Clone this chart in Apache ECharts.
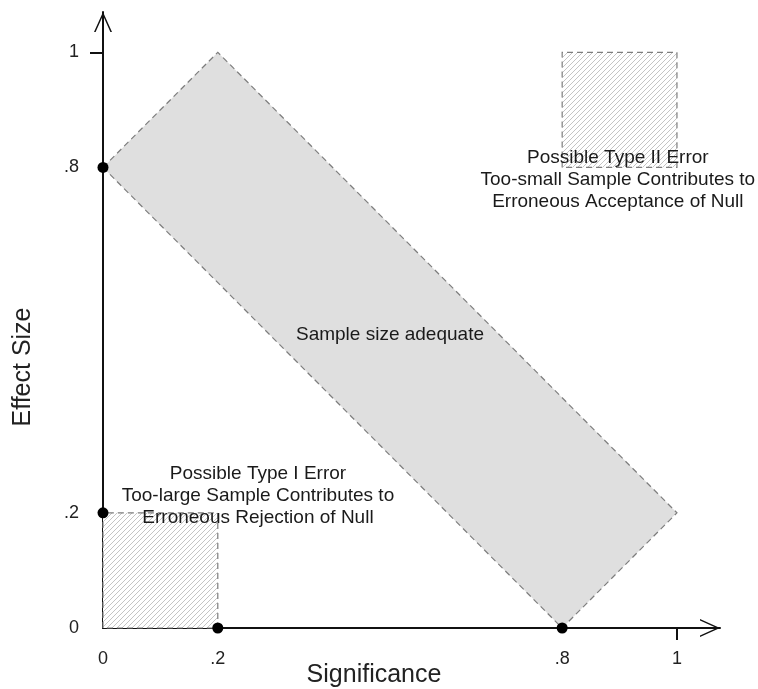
<!DOCTYPE html>
<html>
<head>
<meta charset="utf-8">
<script src="https://cdn.jsdelivr.net/npm/echarts@6/dist/echarts.min.js"></script>
<style>
  html, body { margin: 0; padding: 0; background: #fff; }
  #chart { width: 758px; height: 689px; }
</style>
</head>
<body>
<div id="chart"></div>
<script>
// regions of the diagram (significance, effect size)
const bandPolygon = [[0, 0.8], [0.2, 1], [1, 0.2], [0.8, 0]];
const typeIBox = [[0, 0], [0.2, 0.2]];
const typeIIBox = [[0.8, 0.8], [1, 1]];
const keyPoints = [[0, 0.8], [0, 0.2], [0.2, 0], [0.8, 0]];

const xTickValues = [0, 0.2, 0.8, 1];
const xTickLabels = ['0', '.2', '.8', '1'];
const yTickValues = [0, 0.2, 0.8, 1];
const yTickLabels = ['0', '.2', '.8', '1'];

const annotationTexts = [
  'Sample size adequate',
  'Possible Type I Error\nToo-large Sample Contributes to\nErroneous Rejection of Null',
  'Possible Type II Error\nToo-small Sample Contributes to\nErroneous Acceptance of Null'
];
const annotationAnchors = [[0.5, 0.51], [0.27, 0.229], [0.897, 0.778]];

const FONT = '"Liberation Sans", Arial, sans-serif';

// hatch pattern for the error boxes
const hatch = document.createElement('canvas');
hatch.width = 5;
hatch.height = 5;
const hctx = hatch.getContext('2d');
hctx.fillStyle = '#ffffff';
hctx.fillRect(0, 0, 5, 5);
hctx.strokeStyle = '#c4c4c4';
hctx.lineWidth = 1;
hctx.beginPath();
hctx.moveTo(-1, 6); hctx.lineTo(6, -1);
hctx.moveTo(-1, 1); hctx.lineTo(1, -1);
hctx.moveTo(4, 6); hctx.lineTo(6, 4);
hctx.stroke();

const boxCorners = (b) => [[b[0][0], b[0][1]], [b[0][0], b[1][1]], [b[1][0], b[1][1]], [b[1][0], b[0][1]]];

const regionSeries = (points, fill, z) => ({
  type: 'custom',
  silent: true,
  z: z,
  data: [points[0]],
  renderItem: (params, api) => ({
    type: 'polygon',
    shape: { points: points.map(p => api.coord(p)) },
    style: { fill: fill, stroke: '#7d7d7d', lineWidth: 1.2, lineDash: [6, 4] }
  })
});

const chevron = 'path://M9,0 L18,20 L16.4,20 L9,3.4 L1.6,20 L0,20 Z';

const myChart = echarts.init(document.getElementById('chart'));
const option = {
  animation: false,
  backgroundColor: '#fff',
  grid: { left: 103, right: 38, top: 12, bottom: 61, outerBoundsMode: 'none', containLabel: false },
  xAxis: {
    type: 'value',
    min: 0,
    max: 1.075,
    name: 'Significance',
    nameLocation: 'middle',
    nameGap: 35,
    nameMoveOverlap: false,
    nameTextStyle: { fontFamily: FONT, fontSize: 25, color: '#222', padding: [0, 75, 0, 0] },
    axisLine: {
      show: true,
      onZero: false,
      lineStyle: { color: '#111', width: 2 },
      symbol: ['none', chevron],
      symbolSize: [18, 20],
      symbolOffset: [0, -10]
    },
    axisTick: { show: true, customValues: [1], length: 12, lineStyle: { color: '#111', width: 2 } },
    axisLabel: {
      customValues: xTickValues,
      formatter: (v) => xTickLabels[xTickValues.indexOf(v)],
      margin: 22,
      fontFamily: FONT,
      fontSize: 18,
      color: '#222'
    },
    splitLine: { show: false }
  },
  yAxis: {
    type: 'value',
    min: 0,
    max: 1.07,
    name: 'Effect Size',
    nameLocation: 'middle',
    nameGap: 67,
    nameMoveOverlap: false,
    nameTextStyle: { fontFamily: FONT, fontSize: 25, color: '#222', padding: [0, 94, 0, 0] },
    axisLine: {
      show: true,
      onZero: false,
      lineStyle: { color: '#111', width: 2 },
      symbol: ['none', chevron],
      symbolSize: [18, 20],
      symbolOffset: [0, -10]
    },
    axisTick: { show: true, customValues: [1], length: 13, lineStyle: { color: '#111', width: 2 } },
    axisLabel: {
      customValues: yTickValues,
      formatter: (v) => yTickLabels[yTickValues.indexOf(v)],
      margin: 24,
      fontFamily: FONT,
      fontSize: 18,
      color: '#222'
    },
    splitLine: { show: false }
  },
  series: [
    regionSeries(bandPolygon, '#dfdfdf', 1),
    regionSeries(boxCorners(typeIBox), { image: hatch, repeat: 'repeat' }, 1),
    regionSeries(boxCorners(typeIIBox), { image: hatch, repeat: 'repeat' }, 1),
    {
      type: 'custom',
      silent: true,
      z: 3,
      data: annotationAnchors,
      renderItem: (params, api) => {
        const p = api.coord([api.value(0), api.value(1)]);
        return {
          type: 'text',
          x: p[0],
          y: p[1],
          style: {
            text: annotationTexts[params.dataIndex],
            fill: '#1a1a1a',
            font: '19px ' + FONT,
            align: 'center',
            verticalAlign: 'middle',
            lineHeight: 22
          }
        };
      }
    },
    {
      type: 'scatter',
      silent: true,
      z: 4,
      symbolSize: 11,
      itemStyle: { color: '#000', opacity: 1 },
      data: keyPoints
    }
  ]
};
myChart.setOption(option);
window.addEventListener('resize', () => myChart.resize());
</script>
</body>
</html>
